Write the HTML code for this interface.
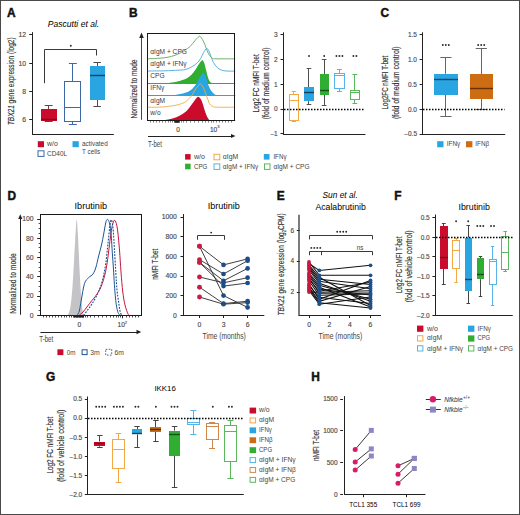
<!DOCTYPE html>
<html><head><meta charset="utf-8"><style>
html,body{margin:0;padding:0;background:#fff;}
body{width:520px;height:515px;overflow:hidden;}
svg{display:block;font-family:"Liberation Sans",sans-serif;}
text{stroke:none;}
text.t{stroke:#4a4a4a;stroke-width:0.14px;fill:#4a4a4a;}
text.ti{stroke:none;}
text.pl{stroke:#111;stroke-width:0.45px;}
text.rl{stroke:#333;stroke-width:0.16px;}
</style></head><body>
<svg width="520" height="515" viewBox="0 0 520 515">
<rect x="0" y="0" width="520" height="515" fill="#fff"/>
<text x="7" y="16.5" font-size="11.9" class="pl" fill="#111" font-weight="bold">A</text>
<text x="73.5" y="26.8" font-size="8.8" class="ti" text-anchor="middle" font-style="italic" textLength="51.4" lengthAdjust="spacingAndGlyphs">Pascutti et al.</text>
<line x1="32.5" y1="32.2" x2="32.5" y2="135" stroke="#222" stroke-width="1"/>
<line x1="32" y1="134.5" x2="113.8" y2="134.5" stroke="#222" stroke-width="1"/>
<line x1="29.2" y1="34.5" x2="32.5" y2="34.5" stroke="#222" stroke-width="1"/>
<text x="26" y="37.2" font-size="6.8" class="t" text-anchor="end" fill="#555">12</text>
<line x1="29.2" y1="63.5" x2="32.5" y2="63.5" stroke="#222" stroke-width="1"/>
<text x="26" y="65.5" font-size="6.8" class="t" text-anchor="end" fill="#555">10</text>
<line x1="29.2" y1="91.5" x2="32.5" y2="91.5" stroke="#222" stroke-width="1"/>
<text x="26" y="93.8" font-size="6.8" class="t" text-anchor="end" fill="#555">8</text>
<line x1="29.2" y1="119.5" x2="32.5" y2="119.5" stroke="#222" stroke-width="1"/>
<text x="26" y="122" font-size="6.8" class="t" text-anchor="end" fill="#555">6</text>
<text x="0" y="0" font-size="8.62" fill="#333" class="rl" transform="translate(14.1,81.25) rotate(-90)" text-anchor="middle" textLength="87.7" lengthAdjust="spacingAndGlyphs"><tspan font-style="italic">TBX21</tspan> gene expression (log2)</text>
<path d="M44.5,83.2 V49.5 H96.5 V55.5" fill="none" stroke="#3a3a3a" stroke-width="1"/>
<circle cx="70.8" cy="45.7" r="0.95" fill="#2a2a2a" stroke="none" stroke-width="1"/>
<line x1="48.5" y1="105.8" x2="48.5" y2="109" stroke="#7a3b46" stroke-width="1"/>
<line x1="48.65" y1="121.5" x2="48.65" y2="121.5" stroke="#7a3b46" stroke-width="1"/>
<line x1="44.68" y1="105.5" x2="52.63" y2="105.5" stroke="#7a3b46" stroke-width="1"/>
<line x1="44.68" y1="121.5" x2="52.63" y2="121.5" stroke="#7a3b46" stroke-width="1"/>
<rect x="41" y="109" width="16" height="12" fill="#cb0b2c" stroke="none" stroke-width="1"/>
<line x1="41" y1="119.5" x2="57" y2="119.5" stroke="#7a0a1a" stroke-width="1.4"/>
<line x1="72.5" y1="63.7" x2="72.5" y2="81.5" stroke="#3d6aa6" stroke-width="1"/>
<line x1="72.5" y1="121.5" x2="72.5" y2="124.9" stroke="#3d6aa6" stroke-width="1"/>
<line x1="68.88" y1="63.5" x2="76.82" y2="63.5" stroke="#3d6aa6" stroke-width="1"/>
<line x1="68.88" y1="124.5" x2="76.82" y2="124.5" stroke="#3d6aa6" stroke-width="1"/>
<rect x="64.5" y="81.5" width="16" height="40" fill="#fff" stroke="#3d6aa6" stroke-width="1"/>
<line x1="64.5" y1="107.5" x2="80.5" y2="107.5" stroke="#3d6aa6" stroke-width="1"/>
<line x1="97.5" y1="62.5" x2="97.5" y2="66.2" stroke="#4a4a4a" stroke-width="1"/>
<line x1="97.5" y1="99.5" x2="97.5" y2="106.3" stroke="#4a4a4a" stroke-width="1"/>
<line x1="93.43" y1="62.5" x2="100.88" y2="62.5" stroke="#4a4a4a" stroke-width="1"/>
<line x1="93.43" y1="106.5" x2="100.88" y2="106.5" stroke="#4a4a4a" stroke-width="1"/>
<rect x="90" y="66" width="15" height="34" fill="#29a5e2" stroke="none" stroke-width="1"/>
<line x1="90" y1="75.5" x2="105" y2="75.5" stroke="#15405e" stroke-width="1.4"/>
<rect x="37.8" y="141.2" width="6.2" height="6" fill="#cb0b2c" stroke="none" stroke-width="1"/>
<text x="47.1" y="146.2" font-size="7.2" class="ti" fill="#444" textLength="10.7" lengthAdjust="spacingAndGlyphs">w/o</text>
<rect x="38" y="150.8" width="6" height="5.6" fill="#fff" stroke="#3d6aa6" stroke-width="1"/>
<text x="47.1" y="156.3" font-size="7.2" class="ti" fill="#444" textLength="20" lengthAdjust="spacingAndGlyphs">CD40L</text>
<rect x="72.5" y="141.2" width="6.3" height="6" fill="#29a5e2" stroke="none" stroke-width="1"/>
<text x="82" y="146.2" font-size="7.2" class="ti" fill="#444" textLength="25.8" lengthAdjust="spacingAndGlyphs">activated</text>
<text x="82" y="153.6" font-size="7.2" class="ti" fill="#444" textLength="18.2" lengthAdjust="spacingAndGlyphs">T cells</text>
<text x="129.1" y="16.5" font-size="11.9" class="pl" fill="#111" font-weight="bold">B</text>
<path d="M147.6,58.8 C148,58.78 147.93,58.8 150,58.7 C152.07,58.6 157,58.45 160,58.2 C163,57.95 165.5,57.68 168,57.2 C170.5,56.72 172.83,56.08 175,55.3 C177.17,54.52 179.33,53.38 181,52.5 C182.67,51.62 183.52,50.97 185,50 C186.48,49.03 188.27,48.23 189.9,46.7 C191.53,45.17 193.45,42.37 194.8,40.8 C196.15,39.23 197.1,38.03 198,37.3 C198.9,36.57 199.35,35.82 200.2,36.4 C201.05,36.98 202.28,39.33 203.1,40.8 C203.92,42.27 204.43,43.57 205.1,45.2 C205.77,46.83 206.37,48.88 207.1,50.6 C207.83,52.32 208.6,54.22 209.5,55.5 C210.4,56.78 211.42,57.75 212.5,58.3 C213.58,58.85 212.22,58.72 216,58.8 C219.78,58.88 232,58.8 235.2,58.8" fill="none" stroke="#5fa65f" stroke-width="0.9"/>
<path d="M147.6,71.1 C148,71.08 147.1,71.05 150,71 C152.9,70.95 160.33,70.93 165,70.8 C169.67,70.67 174.67,70.4 178,70.2 C181.33,70 182.85,70.08 185,69.6 C187.15,69.12 188.93,68.35 190.9,67.3 C192.87,66.25 195.17,64.78 196.8,63.3 C198.43,61.82 199.57,60.2 200.7,58.4 C201.83,56.6 202.62,54.13 203.6,52.5 C204.58,50.87 205.7,48.83 206.6,48.6 C207.5,48.37 208.27,49.78 209,51.1 C209.73,52.42 210.27,54.62 211,56.5 C211.73,58.38 212.33,60.53 213.4,62.4 C214.47,64.27 215.92,66.37 217.4,67.7 C218.88,69.03 220.53,69.83 222.3,70.4 C224.07,70.97 225.85,70.98 228,71.1 C230.15,71.22 234,71.1 235.2,71.1" fill="none" stroke="#4aa9d9" stroke-width="0.9"/>
<path d="M165,83.1 C165.83,83.05 167.75,83.12 170,82.8 C172.25,82.48 175.85,81.87 178.5,81.2 C181.15,80.53 183.78,79.82 185.9,78.8 C188.02,77.78 189.62,76.6 191.2,75.1 C192.78,73.6 194.17,71.57 195.4,69.8 C196.63,68.03 197.63,65.98 198.6,64.5 C199.57,63.02 200.5,61.57 201.2,60.9 C201.9,60.23 202.27,60.07 202.8,60.5 C203.33,60.93 203.87,61.95 204.4,63.5 C204.93,65.05 205.47,67.68 206,69.8 C206.53,71.92 207.03,74.35 207.6,76.2 C208.17,78.05 208.7,79.75 209.4,80.9 C210.1,82.05 211.4,82.73 211.8,83.1 L211.8,83.1 L165,83.1 Z" fill="#2fae31" stroke="none" stroke-width="1"/>
<line x1="147.6" y1="83.5" x2="235.2" y2="83.5" stroke="#2fae31" stroke-width="1"/>
<path d="M165,95.5 C166.88,95.38 172.82,95.28 176.3,94.8 C179.78,94.32 183.25,93.58 185.9,92.6 C188.55,91.62 190.45,90.4 192.2,88.9 C193.95,87.4 195.17,85.45 196.4,83.6 C197.63,81.75 198.72,79.4 199.6,77.8 C200.48,76.2 201.08,74.8 201.7,74 C202.32,73.2 202.68,72.73 203.3,73 C203.92,73.27 204.78,74.37 205.4,75.6 C206.02,76.83 206.47,78.72 207,80.4 C207.53,82.08 207.88,83.93 208.6,85.7 C209.32,87.47 210.33,89.58 211.3,91 C212.27,92.42 213.35,93.45 214.4,94.2 C215.45,94.95 217.07,95.28 217.6,95.5 L217.6,95.5 L165,95.5 Z" fill="#29a5e2" stroke="none" stroke-width="1"/>
<line x1="147.6" y1="95.5" x2="235.2" y2="95.5" stroke="#29a5e2" stroke-width="1"/>
<path d="M147.6,107.2 C149.67,107.18 155.85,107.33 160,107.1 C164.15,106.87 168.95,106.35 172.5,105.8 C176.05,105.25 179,104.55 181.3,103.8 C183.6,103.05 184.85,102.35 186.3,101.3 C187.75,100.25 188.97,98.63 190,97.5 C191.03,96.37 191.67,95.75 192.5,94.5 C193.33,93.25 194.08,91.42 195,90 C195.92,88.58 197.13,87 198,86 C198.87,85 199.45,84 200.2,84 C200.95,84 201.73,84.83 202.5,86 C203.27,87.17 204.17,89.4 204.8,91 C205.43,92.6 205.75,94.1 206.3,95.6 C206.85,97.1 207.58,98.67 208.1,100 C208.62,101.33 208.67,102.53 209.4,103.6 C210.13,104.67 211.15,105.8 212.5,106.4 C213.85,107 213.72,107.07 217.5,107.2 C221.28,107.33 232.25,107.2 235.2,107.2" fill="none" stroke="#f2a845" stroke-width="0.9"/>
<path d="M163,120.6 C163.33,120.53 163.42,120.53 165,120.2 C166.58,119.87 170,119.37 172.5,118.6 C175,117.83 177.7,116.82 180,115.6 C182.3,114.38 184.42,113.07 186.3,111.3 C188.18,109.53 189.85,106.88 191.3,105 C192.75,103.12 193.97,101.33 195,100 C196.03,98.67 196.77,97.43 197.5,97 C198.23,96.57 198.77,96.9 199.4,97.4 C200.03,97.9 200.68,98.73 201.3,100 C201.92,101.27 202.48,103.12 203.1,105 C203.72,106.88 204.37,109.42 205,111.3 C205.63,113.18 206.27,114.95 206.9,116.3 C207.53,117.65 208.07,118.68 208.8,119.4 C209.53,120.12 210.88,120.4 211.3,120.6 L211.3,120.6 L163,120.6 Z" fill="#cb0b2c" stroke="none" stroke-width="1"/>
<line x1="147.6" y1="120.5" x2="235.2" y2="120.5" stroke="#cb0b2c" stroke-width="1"/>
<rect x="147.5" y="33.5" width="87" height="87" fill="none" stroke="#1a1a1a" stroke-width="1"/>
<text x="150.3" y="53.5" font-size="6.6" fill="#3a3a3a">&#945;IgM + CPG</text>
<text x="150.3" y="65.8" font-size="6.6" fill="#3a3a3a">&#945;IgM + IFN&#947;</text>
<text x="150.3" y="78" font-size="6.6" fill="#3a3a3a">CPG</text>
<text x="150.3" y="90.4" font-size="6.6" fill="#3a3a3a">IFN&#947;</text>
<text x="150.3" y="102.6" font-size="6.6" fill="#3a3a3a">&#945;IgM</text>
<text x="150.3" y="115" font-size="6.6" fill="#3a3a3a">w/o</text>
<line x1="150.5" y1="121" x2="150.5" y2="122.6" stroke="#555" stroke-width="0.7"/>
<line x1="153.5" y1="121" x2="153.5" y2="122.6" stroke="#555" stroke-width="0.7"/>
<line x1="156.5" y1="121" x2="156.5" y2="122.6" stroke="#555" stroke-width="0.7"/>
<line x1="159.5" y1="121" x2="159.5" y2="122.6" stroke="#555" stroke-width="0.7"/>
<line x1="162.5" y1="121" x2="162.5" y2="122.6" stroke="#555" stroke-width="0.7"/>
<line x1="165.5" y1="121" x2="165.5" y2="122.6" stroke="#555" stroke-width="0.7"/>
<line x1="168.5" y1="121" x2="168.5" y2="122.6" stroke="#555" stroke-width="0.7"/>
<line x1="170.5" y1="121" x2="170.5" y2="122.6" stroke="#555" stroke-width="0.7"/>
<line x1="172.5" y1="121" x2="172.5" y2="122.6" stroke="#555" stroke-width="0.7"/>
<line x1="174.5" y1="121" x2="174.5" y2="122.6" stroke="#555" stroke-width="0.7"/>
<line x1="176.5" y1="121" x2="176.5" y2="122.6" stroke="#555" stroke-width="0.7"/>
<line x1="177.5" y1="121" x2="177.5" y2="122.6" stroke="#555" stroke-width="0.7"/>
<line x1="179.5" y1="121" x2="179.5" y2="122.6" stroke="#555" stroke-width="0.7"/>
<line x1="181.5" y1="121" x2="181.5" y2="122.6" stroke="#555" stroke-width="0.7"/>
<line x1="183.5" y1="121" x2="183.5" y2="122.6" stroke="#555" stroke-width="0.7"/>
<line x1="186.5" y1="121" x2="186.5" y2="122.6" stroke="#555" stroke-width="0.7"/>
<line x1="190.5" y1="121" x2="190.5" y2="122.6" stroke="#555" stroke-width="0.7"/>
<line x1="194.5" y1="121" x2="194.5" y2="122.6" stroke="#555" stroke-width="0.7"/>
<line x1="198.5" y1="121" x2="198.5" y2="122.6" stroke="#555" stroke-width="0.7"/>
<line x1="202.5" y1="121" x2="202.5" y2="122.6" stroke="#555" stroke-width="0.7"/>
<line x1="205.5" y1="121" x2="205.5" y2="122.6" stroke="#555" stroke-width="0.7"/>
<line x1="208.5" y1="121" x2="208.5" y2="122.6" stroke="#555" stroke-width="0.7"/>
<line x1="211.5" y1="121" x2="211.5" y2="122.6" stroke="#555" stroke-width="0.7"/>
<line x1="213.5" y1="121" x2="213.5" y2="122.6" stroke="#555" stroke-width="0.7"/>
<line x1="216.5" y1="121" x2="216.5" y2="122.6" stroke="#555" stroke-width="0.7"/>
<line x1="219.5" y1="121" x2="219.5" y2="122.6" stroke="#555" stroke-width="0.7"/>
<line x1="222.5" y1="121" x2="222.5" y2="122.6" stroke="#555" stroke-width="0.7"/>
<line x1="225.5" y1="121" x2="225.5" y2="122.6" stroke="#555" stroke-width="0.7"/>
<line x1="228.5" y1="121" x2="228.5" y2="122.6" stroke="#555" stroke-width="0.7"/>
<line x1="231.5" y1="121" x2="231.5" y2="122.6" stroke="#555" stroke-width="0.7"/>
<rect x="174.5" y="120.5" width="5" height="2.3" fill="#222" stroke="none" stroke-width="1"/>
<text x="178.1" y="131.6" font-size="6.6" class="t" text-anchor="middle" fill="#555">0</text>
<text x="213.6" y="131.6" font-size="6.6" class="t" text-anchor="middle" fill="#555">10</text>
<text x="217.2" y="128.4" font-size="4.2" class="t" fill="#555">3</text>
<line x1="141.5" y1="36" x2="141.5" y2="119.8" stroke="#444" stroke-width="1"/>
<path d="M139.2,38 L141.5,32.6 L143.8,38 Z" fill="#222" stroke="none" stroke-width="1"/>
<text x="0" y="0" font-size="8.85" fill="#333" class="rl" transform="translate(136.6,89.05) rotate(-90)" text-anchor="middle" textLength="59.1" lengthAdjust="spacingAndGlyphs">Normalized to mode</text>
<line x1="148" y1="136.5" x2="232" y2="136.5" stroke="#222" stroke-width="1"/>
<path d="M231,133.9 L235.5,136 L231,138.1 Z" fill="#222" stroke="none" stroke-width="1"/>
<text x="148.1" y="146.6" font-size="8.2" class="ti" fill="#444" textLength="13.8" lengthAdjust="spacingAndGlyphs">T-bet</text>
<line x1="283.5" y1="32.3" x2="283.5" y2="135" stroke="#222" stroke-width="1"/>
<line x1="283" y1="134.5" x2="365.5" y2="134.5" stroke="#222" stroke-width="1"/>
<line x1="280.5" y1="34.5" x2="283.3" y2="34.5" stroke="#222" stroke-width="1"/>
<text x="277.7" y="36.85" font-size="6.5" class="t" text-anchor="end" fill="#555">3</text>
<line x1="280.5" y1="59.5" x2="283.3" y2="59.5" stroke="#222" stroke-width="1"/>
<text x="277.7" y="61.7" font-size="6.5" class="t" text-anchor="end" fill="#555">2</text>
<line x1="280.5" y1="84.5" x2="283.3" y2="84.5" stroke="#222" stroke-width="1"/>
<text x="277.7" y="86.55" font-size="6.5" class="t" text-anchor="end" fill="#555">1</text>
<line x1="280.5" y1="109.5" x2="283.3" y2="109.5" stroke="#222" stroke-width="1"/>
<text x="277.7" y="111.4" font-size="6.5" class="t" text-anchor="end" fill="#555">0</text>
<line x1="280.5" y1="133.5" x2="283.3" y2="133.5" stroke="#222" stroke-width="1"/>
<text x="277.7" y="136.25" font-size="6.5" class="t" text-anchor="end" fill="#555">&#8211;1</text>
<text x="0" y="0" font-size="9.07" fill="#333" class="rl" transform="translate(258.6,83.4) rotate(-90)" text-anchor="middle" textLength="58.2" lengthAdjust="spacingAndGlyphs">Log2 FC nMFI T-bet</text>
<text x="0" y="0" font-size="9.07" fill="#333" class="rl" transform="translate(268.7,83.4) rotate(-90)" text-anchor="middle" textLength="71.8" lengthAdjust="spacingAndGlyphs">(fold of medium control)</text>
<line x1="293.5" y1="91.1" x2="293.5" y2="94.1" stroke="#f2a845" stroke-width="1"/>
<line x1="293.5" y1="120.2" x2="293.5" y2="121.4" stroke="#f2a845" stroke-width="1"/>
<line x1="291.58" y1="91.5" x2="296.12" y2="91.5" stroke="#f2a845" stroke-width="1"/>
<line x1="291.58" y1="121.5" x2="296.12" y2="121.5" stroke="#f2a845" stroke-width="1"/>
<rect x="289.5" y="94.5" width="9" height="26" fill="#fff" stroke="#f2a845" stroke-width="1"/>
<line x1="289.5" y1="100.5" x2="298.5" y2="100.5" stroke="#f2a845" stroke-width="1"/>
<line x1="308.5" y1="68.5" x2="308.5" y2="87.1" stroke="#505050" stroke-width="1"/>
<line x1="308.5" y1="101.1" x2="308.5" y2="104.4" stroke="#505050" stroke-width="1"/>
<line x1="306.63" y1="68.5" x2="311.28" y2="68.5" stroke="#505050" stroke-width="1"/>
<line x1="306.63" y1="104.5" x2="311.28" y2="104.5" stroke="#505050" stroke-width="1"/>
<rect x="304" y="87" width="10" height="14" fill="#29a5e2" stroke="none" stroke-width="1"/>
<line x1="304" y1="92.5" x2="314" y2="92.5" stroke="#15405e" stroke-width="1.4"/>
<line x1="324.5" y1="59.6" x2="324.5" y2="74" stroke="#505050" stroke-width="1"/>
<line x1="324.5" y1="95" x2="324.5" y2="105.8" stroke="#505050" stroke-width="1"/>
<line x1="321.82" y1="59.5" x2="326.47" y2="59.5" stroke="#505050" stroke-width="1"/>
<line x1="321.82" y1="105.5" x2="326.47" y2="105.5" stroke="#505050" stroke-width="1"/>
<rect x="320" y="74" width="9" height="21" fill="#2fae31" stroke="none" stroke-width="1"/>
<line x1="320" y1="90.5" x2="329" y2="90.5" stroke="#16501a" stroke-width="1.4"/>
<line x1="339.5" y1="69.5" x2="339.5" y2="73.3" stroke="#57b4e6" stroke-width="1"/>
<line x1="339.5" y1="88.8" x2="339.5" y2="91.4" stroke="#57b4e6" stroke-width="1"/>
<line x1="336.98" y1="69.5" x2="341.92" y2="69.5" stroke="#57b4e6" stroke-width="1"/>
<line x1="336.98" y1="91.5" x2="341.92" y2="91.5" stroke="#57b4e6" stroke-width="1"/>
<rect x="334.5" y="73.5" width="10" height="15" fill="#fff" stroke="#57b4e6" stroke-width="1"/>
<line x1="334.5" y1="75.5" x2="344.5" y2="75.5" stroke="#57b4e6" stroke-width="1"/>
<line x1="354.5" y1="74.5" x2="354.5" y2="90" stroke="#5cb85e" stroke-width="1"/>
<line x1="354.5" y1="99.7" x2="354.5" y2="103" stroke="#5cb85e" stroke-width="1"/>
<line x1="352.43" y1="74.5" x2="357.28" y2="74.5" stroke="#5cb85e" stroke-width="1"/>
<line x1="352.43" y1="103.5" x2="357.28" y2="103.5" stroke="#5cb85e" stroke-width="1"/>
<rect x="350.5" y="90.5" width="9" height="9" fill="#fff" stroke="#5cb85e" stroke-width="1"/>
<line x1="350.5" y1="92.5" x2="359.5" y2="92.5" stroke="#5cb85e" stroke-width="1"/>
<circle cx="309" cy="56" r="0.95" fill="#2a2a2a" stroke="none" stroke-width="1"/>
<circle cx="324.2" cy="56" r="0.95" fill="#2a2a2a" stroke="none" stroke-width="1"/>
<circle cx="336.4" cy="56" r="0.95" fill="#2a2a2a" stroke="none" stroke-width="1"/>
<circle cx="339.4" cy="56" r="0.95" fill="#2a2a2a" stroke="none" stroke-width="1"/>
<circle cx="342.4" cy="56" r="0.95" fill="#2a2a2a" stroke="none" stroke-width="1"/>
<circle cx="353.4" cy="56" r="0.95" fill="#2a2a2a" stroke="none" stroke-width="1"/>
<circle cx="356.4" cy="56" r="0.95" fill="#2a2a2a" stroke="none" stroke-width="1"/>
<rect x="185.1" y="154.1" width="5.5" height="5.5" fill="#cb0b2c" stroke="none" stroke-width="1"/>
<text x="194" y="159.1" font-size="7.2" class="ti" fill="#444" textLength="11" lengthAdjust="spacingAndGlyphs">w/o</text>
<rect x="214" y="154.3" width="5.8" height="5.5" fill="#fff" stroke="#f2a845" stroke-width="1"/>
<text x="222.8" y="159.1" font-size="7.2" class="ti" fill="#444" textLength="15.4" lengthAdjust="spacingAndGlyphs">&#945;IgM</text>
<rect x="263.8" y="154" width="5.7" height="5.6" fill="#29a5e2" stroke="none" stroke-width="1"/>
<text x="273.4" y="159.1" font-size="7.2" class="ti" fill="#444" textLength="13.1" lengthAdjust="spacingAndGlyphs">IFN&#947;</text>
<rect x="185.1" y="163.7" width="5.5" height="5.6" fill="#2fae31" stroke="none" stroke-width="1"/>
<text x="194" y="168.8" font-size="7.2" class="ti" fill="#444" textLength="13.4" lengthAdjust="spacingAndGlyphs">CPG</text>
<rect x="214" y="163.9" width="5.8" height="5.5" fill="#fff" stroke="#57b4e6" stroke-width="1"/>
<text x="222.8" y="168.8" font-size="7.2" class="ti" fill="#444" textLength="35.4" lengthAdjust="spacingAndGlyphs">&#945;IgM + IFN&#947;</text>
<rect x="264.5" y="163.9" width="5.5" height="5.5" fill="#fff" stroke="#5cb85e" stroke-width="1"/>
<text x="273.4" y="168.8" font-size="7.2" class="ti" fill="#444" textLength="36.1" lengthAdjust="spacingAndGlyphs">&#945;IgM + CPG</text>
<text x="380.5" y="16.6" font-size="11.9" class="pl" fill="#111" font-weight="bold">C</text>
<line x1="422.5" y1="32.3" x2="422.5" y2="135" stroke="#222" stroke-width="1"/>
<line x1="422" y1="134.5" x2="505.2" y2="134.5" stroke="#222" stroke-width="1"/>
<line x1="419.6" y1="34.5" x2="422.4" y2="34.5" stroke="#222" stroke-width="1"/>
<text x="417" y="37.1" font-size="6.5" class="t" text-anchor="end" fill="#555">1.5</text>
<line x1="419.6" y1="59.5" x2="422.4" y2="59.5" stroke="#222" stroke-width="1"/>
<text x="417" y="61.9" font-size="6.5" class="t" text-anchor="end" fill="#555">1.0</text>
<line x1="419.6" y1="84.5" x2="422.4" y2="84.5" stroke="#222" stroke-width="1"/>
<text x="417" y="86.7" font-size="6.5" class="t" text-anchor="end" fill="#555">0.5</text>
<line x1="419.6" y1="109.5" x2="422.4" y2="109.5" stroke="#222" stroke-width="1"/>
<text x="417" y="111.5" font-size="6.5" class="t" text-anchor="end" fill="#555">0.0</text>
<line x1="419.6" y1="134.5" x2="422.4" y2="134.5" stroke="#222" stroke-width="1"/>
<text x="417" y="136.3" font-size="6.5" class="t" text-anchor="end" fill="#555">&#8211;0.5</text>
<text x="0" y="0" font-size="9.07" fill="#333" class="rl" transform="translate(387.7,82.6) rotate(-90)" text-anchor="middle" textLength="53.8" lengthAdjust="spacingAndGlyphs">Log2FC nMFI T-bet</text>
<text x="0" y="0" font-size="9.07" fill="#333" class="rl" transform="translate(398.5,82.75) rotate(-90)" text-anchor="middle" textLength="72.7" lengthAdjust="spacingAndGlyphs">(fold of medium control)</text>
<line x1="445.5" y1="57.4" x2="445.5" y2="73.8" stroke="#666" stroke-width="1"/>
<line x1="445.5" y1="95" x2="445.5" y2="116.3" stroke="#666" stroke-width="1"/>
<line x1="440.36" y1="57.5" x2="451.54" y2="57.5" stroke="#666" stroke-width="1"/>
<line x1="440.36" y1="116.5" x2="451.54" y2="116.5" stroke="#666" stroke-width="1"/>
<rect x="434" y="74" width="24" height="21" fill="#29a5e2" stroke="none" stroke-width="1"/>
<line x1="434" y1="79.5" x2="458" y2="79.5" stroke="#1d4560" stroke-width="1.4"/>
<line x1="481.5" y1="48.3" x2="481.5" y2="74.3" stroke="#666" stroke-width="1"/>
<line x1="481.5" y1="99.1" x2="481.5" y2="109.2" stroke="#666" stroke-width="1"/>
<line x1="475.73" y1="48.5" x2="486.87" y2="48.5" stroke="#666" stroke-width="1"/>
<line x1="475.73" y1="109.5" x2="486.87" y2="109.5" stroke="#666" stroke-width="1"/>
<rect x="470" y="74" width="23" height="25" fill="#cc6d13" stroke="none" stroke-width="1"/>
<line x1="470" y1="88.5" x2="493" y2="88.5" stroke="#6a3000" stroke-width="1.4"/>
<circle cx="442.8" cy="45" r="0.95" fill="#2a2a2a" stroke="none" stroke-width="1"/>
<circle cx="445.8" cy="45" r="0.95" fill="#2a2a2a" stroke="none" stroke-width="1"/>
<circle cx="448.8" cy="45" r="0.95" fill="#2a2a2a" stroke="none" stroke-width="1"/>
<circle cx="478.2" cy="45" r="0.95" fill="#2a2a2a" stroke="none" stroke-width="1"/>
<circle cx="481.2" cy="45" r="0.95" fill="#2a2a2a" stroke="none" stroke-width="1"/>
<circle cx="484.2" cy="45" r="0.95" fill="#2a2a2a" stroke="none" stroke-width="1"/>
<rect x="437.2" y="141.2" width="6.3" height="6.1" fill="#29a5e2" stroke="none" stroke-width="1"/>
<text x="446.8" y="146.3" font-size="7.2" class="ti" fill="#444" textLength="13.5" lengthAdjust="spacingAndGlyphs">IFN&#947;</text>
<rect x="466" y="141.2" width="6.4" height="6.1" fill="#cc6d13" stroke="none" stroke-width="1"/>
<text x="475.3" y="146.3" font-size="7.2" class="ti" fill="#444" textLength="13.8" lengthAdjust="spacingAndGlyphs">IFN&#946;</text>
<text x="7.4" y="199.8" font-size="11.9" class="pl" fill="#111" font-weight="bold">D</text>
<path d="M67.8,315.2 C68.13,314.33 69.22,312.53 69.8,310 C70.38,307.47 70.83,304.17 71.3,300 C71.77,295.83 72.18,290.83 72.6,285 C73.02,279.17 73.37,272.5 73.8,265 C74.23,257.5 74.73,247.57 75.2,240 C75.67,232.43 76.15,220.6 76.6,219.6 C77.05,218.6 77.52,227.93 77.9,234 C78.28,240.07 78.57,249 78.9,256 C79.23,263 79.57,269.83 79.9,276 C80.23,282.17 80.57,288 80.9,293 C81.23,298 81.52,302.3 81.9,306 C82.28,309.7 82.98,313.67 83.2,315.2 Z" fill="#c4c4c6" stroke="none" stroke-width="1"/>
<path d="M79,315.4 C79.67,314.83 81.55,313.57 83,312 C84.45,310.43 86.28,307.83 87.7,306 C89.12,304.17 90.25,302.57 91.5,301 C92.75,299.43 93.87,298.43 95.2,296.6 C96.53,294.77 98.32,292.18 99.5,290 C100.68,287.82 101.42,286 102.3,283.5 C103.18,281 104.05,278.08 104.8,275 C105.55,271.92 106.17,268.83 106.8,265 C107.43,261.17 108.02,256.5 108.6,252 C109.18,247.5 109.8,241.83 110.3,238 C110.8,234.17 111.22,231.25 111.6,229 C111.98,226.75 112.13,225.97 112.6,224.5 C113.07,223.03 113.78,220.37 114.4,220.2 C115.02,220.03 115.73,221.53 116.3,223.5 C116.87,225.47 117.27,227.58 117.8,232 C118.33,236.42 118.97,243.33 119.5,250 C120.03,256.67 120.45,265 121,272 C121.55,279 122.13,286.5 122.8,292 C123.47,297.5 124.08,301.25 125,305 C125.92,308.75 127.38,312.77 128.3,314.5 C129.22,316.23 130.13,315.25 130.5,315.4" fill="none" stroke="#c8173f" stroke-width="1"/>
<path d="M77,315.4 C77.38,314.67 78.58,313.57 79.3,311 C80.02,308.43 80.43,304.58 81.3,300 C82.17,295.42 83.25,287.25 84.5,283.5 C85.75,279.75 87.38,279.08 88.8,277.5 C90.22,275.92 91.8,275.75 93,274 C94.2,272.25 95.1,269.83 96,267 C96.9,264.17 97.48,260.67 98.4,257 C99.32,253.33 100.62,248.83 101.5,245 C102.38,241.17 103,237.67 103.7,234 C104.4,230.33 105.17,225.4 105.7,223 C106.23,220.6 106.42,220.02 106.9,219.6 C107.38,219.18 108.07,219.43 108.6,220.5 C109.13,221.57 109.65,223.25 110.1,226 C110.55,228.75 110.93,232.55 111.3,237 C111.67,241.45 111.95,247.53 112.3,252.7 C112.65,257.87 113.05,262.68 113.4,268 C113.75,273.32 114.05,279.6 114.4,284.6 C114.75,289.6 115.15,294.43 115.5,298 C115.85,301.57 116.08,303.58 116.5,306 C116.92,308.42 117.42,310.93 118,312.5 C118.58,314.07 119.67,314.92 120,315.4" fill="none" stroke="#1c5596" stroke-width="1"/>
<path d="M83.5,315.4 C84.25,314.42 86.58,311.43 88,309.5 C89.42,307.57 90.58,306.05 92,303.8 C93.42,301.55 95.08,298.83 96.5,296 C97.92,293.17 99.33,290.13 100.5,286.8 C101.67,283.47 102.62,279.92 103.5,276 C104.38,272.08 105.13,267.97 105.8,263.3 C106.47,258.63 107.03,252.27 107.5,248 C107.97,243.73 108.18,241.53 108.6,237.7 C109.02,233.87 109.57,227.98 110,225 C110.43,222.02 110.82,220.13 111.2,219.8 C111.58,219.47 111.95,221.08 112.3,223 C112.65,224.92 112.93,226.8 113.3,231.3 C113.67,235.8 114.07,242.88 114.5,250 C114.93,257.12 115.48,267.33 115.9,274 C116.32,280.67 116.55,285.38 117,290 C117.45,294.62 118.13,298.37 118.6,301.7 C119.07,305.03 119.32,307.72 119.8,310 C120.28,312.28 121.22,314.5 121.5,315.4" fill="none" stroke="#1c4f8e" stroke-width="1.1" stroke-dasharray="1.8 1.3"/>
<rect x="40.5" y="214.5" width="101" height="101" fill="none" stroke="#1a1a1a" stroke-width="1"/>
<line x1="37.2" y1="315.5" x2="40.5" y2="315.5" stroke="#222" stroke-width="1"/>
<line x1="38.6" y1="310.5" x2="40.5" y2="310.5" stroke="#222" stroke-width="0.8"/>
<line x1="38.6" y1="305.5" x2="40.5" y2="305.5" stroke="#222" stroke-width="0.8"/>
<line x1="38.6" y1="300.5" x2="40.5" y2="300.5" stroke="#222" stroke-width="0.8"/>
<line x1="37.2" y1="296.5" x2="40.5" y2="296.5" stroke="#222" stroke-width="1"/>
<line x1="38.6" y1="291.5" x2="40.5" y2="291.5" stroke="#222" stroke-width="0.8"/>
<line x1="38.6" y1="286.5" x2="40.5" y2="286.5" stroke="#222" stroke-width="0.8"/>
<line x1="38.6" y1="281.5" x2="40.5" y2="281.5" stroke="#222" stroke-width="0.8"/>
<line x1="37.2" y1="276.5" x2="40.5" y2="276.5" stroke="#222" stroke-width="1"/>
<line x1="38.6" y1="271.5" x2="40.5" y2="271.5" stroke="#222" stroke-width="0.8"/>
<line x1="38.6" y1="267.5" x2="40.5" y2="267.5" stroke="#222" stroke-width="0.8"/>
<line x1="38.6" y1="262.5" x2="40.5" y2="262.5" stroke="#222" stroke-width="0.8"/>
<line x1="37.2" y1="257.5" x2="40.5" y2="257.5" stroke="#222" stroke-width="1"/>
<line x1="38.6" y1="252.5" x2="40.5" y2="252.5" stroke="#222" stroke-width="0.8"/>
<line x1="38.6" y1="247.5" x2="40.5" y2="247.5" stroke="#222" stroke-width="0.8"/>
<line x1="38.6" y1="243.5" x2="40.5" y2="243.5" stroke="#222" stroke-width="0.8"/>
<line x1="37.2" y1="238.5" x2="40.5" y2="238.5" stroke="#222" stroke-width="1"/>
<line x1="38.6" y1="233.5" x2="40.5" y2="233.5" stroke="#222" stroke-width="0.8"/>
<line x1="38.6" y1="228.5" x2="40.5" y2="228.5" stroke="#222" stroke-width="0.8"/>
<line x1="38.6" y1="223.5" x2="40.5" y2="223.5" stroke="#222" stroke-width="0.8"/>
<line x1="37.2" y1="219.5" x2="40.5" y2="219.5" stroke="#222" stroke-width="1"/>
<text x="33.5" y="221.45" font-size="6.8" class="t" text-anchor="end" fill="#555">100</text>
<text x="33.5" y="240.7" font-size="6.8" class="t" text-anchor="end" fill="#555">80</text>
<text x="33.5" y="259.95" font-size="6.8" class="t" text-anchor="end" fill="#555">60</text>
<text x="33.5" y="279.2" font-size="6.8" class="t" text-anchor="end" fill="#555">40</text>
<text x="33.5" y="298.45" font-size="6.8" class="t" text-anchor="end" fill="#555">20</text>
<text x="33.5" y="317.7" font-size="6.8" class="t" text-anchor="end" fill="#555">0</text>
<line x1="43.5" y1="315.5" x2="43.5" y2="317.5" stroke="#222" stroke-width="0.8"/>
<line x1="46.5" y1="315.5" x2="46.5" y2="317.5" stroke="#222" stroke-width="0.8"/>
<line x1="49.5" y1="315.5" x2="49.5" y2="317.5" stroke="#222" stroke-width="0.8"/>
<line x1="52.5" y1="315.5" x2="52.5" y2="317.5" stroke="#222" stroke-width="0.8"/>
<line x1="55.5" y1="315.5" x2="55.5" y2="317.5" stroke="#222" stroke-width="0.8"/>
<line x1="58.5" y1="315.5" x2="58.5" y2="317.5" stroke="#222" stroke-width="0.8"/>
<line x1="61.5" y1="315.5" x2="61.5" y2="317.5" stroke="#222" stroke-width="0.8"/>
<line x1="64.5" y1="315.5" x2="64.5" y2="317.5" stroke="#222" stroke-width="0.8"/>
<line x1="66.5" y1="315.5" x2="66.5" y2="317.5" stroke="#222" stroke-width="0.8"/>
<line x1="69.5" y1="315.5" x2="69.5" y2="317.5" stroke="#222" stroke-width="0.8"/>
<line x1="71.5" y1="315.5" x2="71.5" y2="317.5" stroke="#222" stroke-width="0.8"/>
<line x1="73.5" y1="315.5" x2="73.5" y2="317.5" stroke="#222" stroke-width="0.8"/>
<line x1="74.5" y1="315.5" x2="74.5" y2="317.5" stroke="#222" stroke-width="0.8"/>
<line x1="76.5" y1="315.5" x2="76.5" y2="317.5" stroke="#222" stroke-width="0.8"/>
<line x1="77.5" y1="315.5" x2="77.5" y2="317.5" stroke="#222" stroke-width="0.8"/>
<line x1="79.5" y1="315.5" x2="79.5" y2="317.5" stroke="#222" stroke-width="0.8"/>
<line x1="80.5" y1="315.5" x2="80.5" y2="317.5" stroke="#222" stroke-width="0.8"/>
<line x1="82.5" y1="315.5" x2="82.5" y2="317.5" stroke="#222" stroke-width="0.8"/>
<line x1="83.5" y1="315.5" x2="83.5" y2="317.5" stroke="#222" stroke-width="0.8"/>
<line x1="85.5" y1="315.5" x2="85.5" y2="317.5" stroke="#222" stroke-width="0.8"/>
<line x1="87.5" y1="315.5" x2="87.5" y2="317.5" stroke="#222" stroke-width="0.8"/>
<line x1="90.5" y1="315.5" x2="90.5" y2="317.5" stroke="#222" stroke-width="0.8"/>
<line x1="94.5" y1="315.5" x2="94.5" y2="317.5" stroke="#222" stroke-width="0.8"/>
<line x1="98.5" y1="315.5" x2="98.5" y2="317.5" stroke="#222" stroke-width="0.8"/>
<line x1="102.5" y1="315.5" x2="102.5" y2="317.5" stroke="#222" stroke-width="0.8"/>
<line x1="106.5" y1="315.5" x2="106.5" y2="317.5" stroke="#222" stroke-width="0.8"/>
<line x1="110.5" y1="315.5" x2="110.5" y2="317.5" stroke="#222" stroke-width="0.8"/>
<line x1="113.5" y1="315.5" x2="113.5" y2="317.5" stroke="#222" stroke-width="0.8"/>
<line x1="116.5" y1="315.5" x2="116.5" y2="317.5" stroke="#222" stroke-width="0.8"/>
<line x1="118.5" y1="315.5" x2="118.5" y2="317.5" stroke="#222" stroke-width="0.8"/>
<line x1="120.5" y1="315.5" x2="120.5" y2="317.5" stroke="#222" stroke-width="0.8"/>
<line x1="122.5" y1="315.5" x2="122.5" y2="317.5" stroke="#222" stroke-width="0.8"/>
<line x1="126.5" y1="315.5" x2="126.5" y2="317.5" stroke="#222" stroke-width="0.8"/>
<line x1="129.5" y1="315.5" x2="129.5" y2="317.5" stroke="#222" stroke-width="0.8"/>
<line x1="132.5" y1="315.5" x2="132.5" y2="317.5" stroke="#222" stroke-width="0.8"/>
<line x1="135.5" y1="315.5" x2="135.5" y2="317.5" stroke="#222" stroke-width="0.8"/>
<line x1="138.5" y1="315.5" x2="138.5" y2="317.5" stroke="#222" stroke-width="0.8"/>
<line x1="122.5" y1="315.5" x2="122.5" y2="318.3" stroke="#222" stroke-width="1"/>
<rect x="74" y="315.2" width="10" height="2.3" fill="#222" stroke="none" stroke-width="1"/>
<text x="79.3" y="326.9" font-size="6.6" class="t" text-anchor="middle" fill="#555">0</text>
<text x="121.2" y="326.9" font-size="6.6" class="t" text-anchor="middle" fill="#555">10</text>
<text x="124.8" y="323.6" font-size="4.2" class="t" fill="#555">2</text>
<text x="90.8" y="209.3" font-size="9" class="ti" text-anchor="middle" textLength="32.4" lengthAdjust="spacingAndGlyphs">Ibrutinib</text>
<line x1="20.5" y1="217.5" x2="20.5" y2="314.8" stroke="#222" stroke-width="1"/>
<path d="M18.2,219 L20.3,214.2 L22.4,219 Z" fill="#222" stroke="none" stroke-width="1"/>
<text x="0" y="0" font-size="8.85" fill="#333" class="rl" transform="translate(15.6,283.5) rotate(-90)" text-anchor="middle" textLength="60.6" lengthAdjust="spacingAndGlyphs">Normalized to mode</text>
<line x1="40.4" y1="332.5" x2="137.5" y2="332.5" stroke="#222" stroke-width="1"/>
<path d="M136.5,329.8 L141.2,332 L136.5,334.2 Z" fill="#222" stroke="none" stroke-width="1"/>
<text x="39.2" y="341.5" font-size="8.2" class="ti" fill="#444" textLength="14.1" lengthAdjust="spacingAndGlyphs">T-bet</text>
<rect x="57.4" y="349.3" width="6" height="5.8" fill="#cb0b2c" stroke="none" stroke-width="1"/>
<text x="66.8" y="354.5" font-size="7.2" class="ti" fill="#444" textLength="8.7" lengthAdjust="spacingAndGlyphs">0m</text>
<rect x="82.1" y="349.8" width="5" height="4.8" fill="#fff" stroke="#1c5596" stroke-width="1"/>
<text x="90.3" y="354.5" font-size="7.2" class="ti" fill="#444" textLength="9.5" lengthAdjust="spacingAndGlyphs">3m</text>
<rect x="105.7" y="349.3" width="6" height="5.8" fill="#fff" stroke="#41608a" stroke-width="1" stroke-dasharray="1.6 1.4"/>
<text x="114.6" y="354.5" font-size="7.2" class="ti" fill="#444" textLength="9.4" lengthAdjust="spacingAndGlyphs">6m</text>
<line x1="183.5" y1="214" x2="183.5" y2="315.8" stroke="#222" stroke-width="1"/>
<line x1="183" y1="315.5" x2="264.3" y2="315.5" stroke="#222" stroke-width="1"/>
<line x1="180.5" y1="217.5" x2="183.3" y2="217.5" stroke="#222" stroke-width="1"/>
<text x="176.9" y="219.3" font-size="6.8" class="t" text-anchor="end" fill="#555">1000</text>
<line x1="180.5" y1="236.5" x2="183.3" y2="236.5" stroke="#222" stroke-width="1"/>
<text x="176.9" y="238.96" font-size="6.8" class="t" text-anchor="end" fill="#555">800</text>
<line x1="180.5" y1="256.5" x2="183.3" y2="256.5" stroke="#222" stroke-width="1"/>
<text x="176.9" y="258.62" font-size="6.8" class="t" text-anchor="end" fill="#555">600</text>
<line x1="180.5" y1="276.5" x2="183.3" y2="276.5" stroke="#222" stroke-width="1"/>
<text x="176.9" y="278.28" font-size="6.8" class="t" text-anchor="end" fill="#555">400</text>
<line x1="180.5" y1="295.5" x2="183.3" y2="295.5" stroke="#222" stroke-width="1"/>
<text x="176.9" y="297.94" font-size="6.8" class="t" text-anchor="end" fill="#555">200</text>
<line x1="180.5" y1="315.5" x2="183.3" y2="315.5" stroke="#222" stroke-width="1"/>
<text x="176.9" y="317.6" font-size="6.8" class="t" text-anchor="end" fill="#555">0</text>
<line x1="199.5" y1="315.4" x2="199.5" y2="318" stroke="#222" stroke-width="1"/>
<text x="199.5" y="327.2" font-size="6.8" class="t" text-anchor="middle" fill="#555">0</text>
<line x1="223.5" y1="315.4" x2="223.5" y2="318" stroke="#222" stroke-width="1"/>
<text x="223.7" y="327.2" font-size="6.8" class="t" text-anchor="middle" fill="#555">3</text>
<line x1="247.5" y1="315.4" x2="247.5" y2="318" stroke="#222" stroke-width="1"/>
<text x="247.7" y="327.2" font-size="6.8" class="t" text-anchor="middle" fill="#555">6</text>
<text x="202.5" y="338.8" font-size="8.6" class="ti" fill="#444" textLength="43.3" lengthAdjust="spacingAndGlyphs">Time (months)</text>
<text x="223.8" y="208.9" font-size="9" class="ti" text-anchor="middle" textLength="32.2" lengthAdjust="spacingAndGlyphs">Ibrutinib</text>
<text x="0" y="0" font-size="8.85" fill="#333" class="rl" transform="translate(158,264.25) rotate(-90)" text-anchor="middle" textLength="31.1" lengthAdjust="spacingAndGlyphs">nMFI T-bet</text>
<path d="M197.5,239.8 V235.5 H224.5 V239.8" fill="none" stroke="#3a3a3a" stroke-width="1"/>
<circle cx="211.2" cy="232.6" r="0.95" fill="#2a2a2a" stroke="none" stroke-width="1"/>
<path d="M199.5,246.3 L223.5,264.9 L247.6,258.9" fill="none" stroke="#2a2a2a" stroke-width="0.9"/>
<path d="M199.5,246.3 L223.5,295.6 L247.6,307.4" fill="none" stroke="#2a2a2a" stroke-width="0.9"/>
<path d="M199.5,259.6 L223.5,274 L247.6,260.7" fill="none" stroke="#2a2a2a" stroke-width="0.9"/>
<path d="M199.5,262.4 L223.5,280.8 L247.6,268.4" fill="none" stroke="#2a2a2a" stroke-width="0.9"/>
<path d="M199.5,277 L223.5,282.8 L247.6,277.7" fill="none" stroke="#2a2a2a" stroke-width="0.9"/>
<path d="M199.5,262.4 L223.5,286.1 L247.6,283" fill="none" stroke="#2a2a2a" stroke-width="0.9"/>
<path d="M199.5,287.2 L223.5,303.6 L247.6,301.2" fill="none" stroke="#2a2a2a" stroke-width="0.9"/>
<path d="M199.5,297 L223.5,304.2 L247.6,302.6" fill="none" stroke="#2a2a2a" stroke-width="0.9"/>
<circle cx="199.5" cy="246.3" r="2.45" fill="#c81e44" stroke="none" stroke-width="1"/>
<circle cx="199.5" cy="246.3" r="2.45" fill="#c81e44" stroke="none" stroke-width="1"/>
<circle cx="199.5" cy="259.6" r="2.45" fill="#c81e44" stroke="none" stroke-width="1"/>
<circle cx="199.5" cy="262.4" r="2.45" fill="#c81e44" stroke="none" stroke-width="1"/>
<circle cx="199.5" cy="277" r="2.45" fill="#c81e44" stroke="none" stroke-width="1"/>
<circle cx="199.5" cy="262.4" r="2.45" fill="#c81e44" stroke="none" stroke-width="1"/>
<circle cx="199.5" cy="287.2" r="2.45" fill="#c81e44" stroke="none" stroke-width="1"/>
<circle cx="199.5" cy="297" r="2.45" fill="#c81e44" stroke="none" stroke-width="1"/>
<circle cx="223.5" cy="264.9" r="2.35" fill="#1d4c86" stroke="none" stroke-width="1"/>
<circle cx="247.6" cy="258.9" r="2.35" fill="#1d4c86" stroke="none" stroke-width="1"/>
<circle cx="223.5" cy="295.6" r="2.35" fill="#1d4c86" stroke="none" stroke-width="1"/>
<circle cx="247.6" cy="307.4" r="2.35" fill="#1d4c86" stroke="none" stroke-width="1"/>
<circle cx="223.5" cy="274" r="2.35" fill="#1d4c86" stroke="none" stroke-width="1"/>
<circle cx="247.6" cy="260.7" r="2.35" fill="#1d4c86" stroke="none" stroke-width="1"/>
<circle cx="223.5" cy="280.8" r="2.35" fill="#1d4c86" stroke="none" stroke-width="1"/>
<circle cx="247.6" cy="268.4" r="2.35" fill="#1d4c86" stroke="none" stroke-width="1"/>
<circle cx="223.5" cy="282.8" r="2.35" fill="#1d4c86" stroke="none" stroke-width="1"/>
<circle cx="247.6" cy="277.7" r="2.35" fill="#1d4c86" stroke="none" stroke-width="1"/>
<circle cx="223.5" cy="286.1" r="2.35" fill="#1d4c86" stroke="none" stroke-width="1"/>
<circle cx="247.6" cy="283" r="2.35" fill="#1d4c86" stroke="none" stroke-width="1"/>
<circle cx="223.5" cy="303.6" r="2.35" fill="#1d4c86" stroke="none" stroke-width="1"/>
<circle cx="247.6" cy="301.2" r="2.35" fill="#1d4c86" stroke="none" stroke-width="1"/>
<circle cx="223.5" cy="304.2" r="2.35" fill="#1d4c86" stroke="none" stroke-width="1"/>
<circle cx="247.6" cy="302.6" r="2.35" fill="#1d4c86" stroke="none" stroke-width="1"/>
<text x="276.8" y="199.8" font-size="11.9" class="pl" fill="#111" font-weight="bold">E</text>
<text x="340.1" y="197.5" font-size="8.8" class="ti" text-anchor="middle" font-style="italic" textLength="35.2" lengthAdjust="spacingAndGlyphs">Sun et al.</text>
<text x="340.6" y="209.6" font-size="8.6" class="ti" text-anchor="middle" textLength="50.4" lengthAdjust="spacingAndGlyphs">Acalabrutinib</text>
<line x1="299" y1="214.8" x2="299" y2="316" stroke="#505050" stroke-width="1.5"/>
<line x1="299.1" y1="315.5" x2="381" y2="315.5" stroke="#222" stroke-width="1"/>
<line x1="296.8" y1="230.5" x2="299.6" y2="230.5" stroke="#222" stroke-width="1"/>
<text x="294.2" y="232.52" font-size="6.5" class="t" text-anchor="end" fill="#555">6</text>
<line x1="296.8" y1="261.5" x2="299.6" y2="261.5" stroke="#222" stroke-width="1"/>
<text x="294.2" y="263.48" font-size="6.5" class="t" text-anchor="end" fill="#555">4</text>
<line x1="296.8" y1="292.5" x2="299.6" y2="292.5" stroke="#222" stroke-width="1"/>
<text x="294.2" y="294.44" font-size="6.5" class="t" text-anchor="end" fill="#555">2</text>
<line x1="309.5" y1="315.2" x2="309.5" y2="318" stroke="#222" stroke-width="1"/>
<text x="309.1" y="327.2" font-size="6.8" class="t" text-anchor="middle" fill="#555">0</text>
<line x1="329.5" y1="315.2" x2="329.5" y2="318" stroke="#222" stroke-width="1"/>
<text x="329.5" y="327.2" font-size="6.8" class="t" text-anchor="middle" fill="#555">2</text>
<line x1="349.5" y1="315.2" x2="349.5" y2="318" stroke="#222" stroke-width="1"/>
<text x="349.9" y="327.2" font-size="6.8" class="t" text-anchor="middle" fill="#555">4</text>
<line x1="370.5" y1="315.2" x2="370.5" y2="318" stroke="#222" stroke-width="1"/>
<text x="370.3" y="327.2" font-size="6.8" class="t" text-anchor="middle" fill="#555">6</text>
<text x="318.5" y="338.8" font-size="8.6" class="ti" fill="#444" textLength="43.8" lengthAdjust="spacingAndGlyphs">Time (months)</text>
<text x="0" y="0" font-size="9.3" fill="#333" class="rl" transform="translate(284,264.4) rotate(-90)" text-anchor="middle" textLength="102.4" lengthAdjust="spacingAndGlyphs"><tspan font-style="italic">TBX21</tspan> gene expression (log<tspan font-size="5.5" dy="1.6">2</tspan><tspan dy="-1.6">CPM)</tspan></text>
<path d="M309.5,239.4 V235.5 H372.5 V239.4" fill="none" stroke="#3a3a3a" stroke-width="1"/>
<circle cx="337.2" cy="231.8" r="0.95" fill="#2a2a2a" stroke="none" stroke-width="1"/>
<circle cx="340.2" cy="231.8" r="0.95" fill="#2a2a2a" stroke="none" stroke-width="1"/>
<circle cx="343.2" cy="231.8" r="0.95" fill="#2a2a2a" stroke="none" stroke-width="1"/>
<circle cx="346.2" cy="231.8" r="0.95" fill="#2a2a2a" stroke="none" stroke-width="1"/>
<path d="M309.5,255.2 V251.5 H372.5 V255.2" fill="none" stroke="#3a3a3a" stroke-width="1"/>
<line x1="321.5" y1="251.5" x2="321.5" y2="255.2" stroke="#3a3a3a" stroke-width="1"/>
<circle cx="311.3" cy="247.9" r="0.95" fill="#2a2a2a" stroke="none" stroke-width="1"/>
<circle cx="314.3" cy="247.9" r="0.95" fill="#2a2a2a" stroke="none" stroke-width="1"/>
<circle cx="317.3" cy="247.9" r="0.95" fill="#2a2a2a" stroke="none" stroke-width="1"/>
<circle cx="320.3" cy="247.9" r="0.95" fill="#2a2a2a" stroke="none" stroke-width="1"/>
<text x="356.8" y="249.6" font-size="7.2" class="ti" fill="#444" textLength="6.6" lengthAdjust="spacingAndGlyphs">ns</text>
<path d="M309.0,263.6 L319.3,270.4 L370.5,265.3" fill="none" stroke="#111" stroke-width="1.05"/>
<path d="M309.0,262 L319.3,275.3 L370.5,275.3" fill="none" stroke="#111" stroke-width="1.05"/>
<path d="M309.0,265.2 L319.3,277.3 L370.5,305.5" fill="none" stroke="#111" stroke-width="1.05"/>
<path d="M309.0,266.8 L319.3,279.3 L370.5,284.5" fill="none" stroke="#111" stroke-width="1.05"/>
<path d="M309.0,268.4 L319.3,281.3 L370.5,288.7" fill="none" stroke="#111" stroke-width="1.05"/>
<path d="M309.0,270 L319.3,283.3 L370.5,301.3" fill="none" stroke="#111" stroke-width="1.05"/>
<path d="M309.0,273 L319.3,285.3 L370.5,299.2" fill="none" stroke="#111" stroke-width="1.05"/>
<path d="M309.0,274.6 L319.3,287.3 L370.5,306.9" fill="none" stroke="#111" stroke-width="1.05"/>
<path d="M309.0,276.2 L319.3,289.3 L370.5,295" fill="none" stroke="#111" stroke-width="1.05"/>
<path d="M309.0,279.4 L319.3,291.3 L370.5,282.3" fill="none" stroke="#111" stroke-width="1.05"/>
<path d="M309.0,277.8 L319.3,293.3 L370.5,292.9" fill="none" stroke="#111" stroke-width="1.05"/>
<path d="M309.0,281 L319.3,295.3 L370.5,294" fill="none" stroke="#111" stroke-width="1.05"/>
<path d="M309.0,285.6 L319.3,297.3 L370.5,303.4" fill="none" stroke="#111" stroke-width="1.05"/>
<path d="M309.0,284 L319.3,299.3 L370.5,280.5" fill="none" stroke="#111" stroke-width="1.05"/>
<path d="M309.0,287.2 L319.3,301.3 L370.5,286.6" fill="none" stroke="#111" stroke-width="1.05"/>
<path d="M309.0,288.8 L319.3,302.8 L370.5,308.1" fill="none" stroke="#111" stroke-width="1.05"/>
<path d="M309.0,290.4 L319.3,304.2 L370.5,297.1" fill="none" stroke="#111" stroke-width="1.05"/>
<path d="M309.0,292 L319.3,292.3 L370.5,290.8" fill="none" stroke="#111" stroke-width="1.05"/>
<circle cx="309" cy="262" r="1.9" fill="#c8173f" stroke="none" stroke-width="1"/>
<circle cx="309" cy="263.6" r="1.9" fill="#c8173f" stroke="none" stroke-width="1"/>
<circle cx="309" cy="265.2" r="1.9" fill="#c8173f" stroke="none" stroke-width="1"/>
<circle cx="309" cy="266.8" r="1.9" fill="#c8173f" stroke="none" stroke-width="1"/>
<circle cx="309" cy="268.4" r="1.9" fill="#c8173f" stroke="none" stroke-width="1"/>
<circle cx="309" cy="270" r="1.9" fill="#c8173f" stroke="none" stroke-width="1"/>
<circle cx="309" cy="273" r="1.9" fill="#c8173f" stroke="none" stroke-width="1"/>
<circle cx="309" cy="274.6" r="1.9" fill="#c8173f" stroke="none" stroke-width="1"/>
<circle cx="309" cy="276.2" r="1.9" fill="#c8173f" stroke="none" stroke-width="1"/>
<circle cx="309" cy="277.8" r="1.9" fill="#c8173f" stroke="none" stroke-width="1"/>
<circle cx="309" cy="279.4" r="1.9" fill="#c8173f" stroke="none" stroke-width="1"/>
<circle cx="309" cy="281" r="1.9" fill="#c8173f" stroke="none" stroke-width="1"/>
<circle cx="309" cy="284" r="1.9" fill="#c8173f" stroke="none" stroke-width="1"/>
<circle cx="309" cy="285.6" r="1.9" fill="#c8173f" stroke="none" stroke-width="1"/>
<circle cx="309" cy="287.2" r="1.9" fill="#c8173f" stroke="none" stroke-width="1"/>
<circle cx="309" cy="288.8" r="1.9" fill="#c8173f" stroke="none" stroke-width="1"/>
<circle cx="309" cy="290.4" r="1.9" fill="#c8173f" stroke="none" stroke-width="1"/>
<circle cx="309" cy="292" r="1.9" fill="#c8173f" stroke="none" stroke-width="1"/>
<circle cx="319.3" cy="270.4" r="1.9" fill="#1f4f8c" stroke="none" stroke-width="1"/>
<circle cx="319.3" cy="275.3" r="1.9" fill="#1f4f8c" stroke="none" stroke-width="1"/>
<circle cx="319.3" cy="277.3" r="1.9" fill="#1f4f8c" stroke="none" stroke-width="1"/>
<circle cx="319.3" cy="279.3" r="1.9" fill="#1f4f8c" stroke="none" stroke-width="1"/>
<circle cx="319.3" cy="281.3" r="1.9" fill="#1f4f8c" stroke="none" stroke-width="1"/>
<circle cx="319.3" cy="283.3" r="1.9" fill="#1f4f8c" stroke="none" stroke-width="1"/>
<circle cx="319.3" cy="285.3" r="1.9" fill="#1f4f8c" stroke="none" stroke-width="1"/>
<circle cx="319.3" cy="287.3" r="1.9" fill="#1f4f8c" stroke="none" stroke-width="1"/>
<circle cx="319.3" cy="289.3" r="1.9" fill="#1f4f8c" stroke="none" stroke-width="1"/>
<circle cx="319.3" cy="291.3" r="1.9" fill="#1f4f8c" stroke="none" stroke-width="1"/>
<circle cx="319.3" cy="293.3" r="1.9" fill="#1f4f8c" stroke="none" stroke-width="1"/>
<circle cx="319.3" cy="295.3" r="1.9" fill="#1f4f8c" stroke="none" stroke-width="1"/>
<circle cx="319.3" cy="297.3" r="1.9" fill="#1f4f8c" stroke="none" stroke-width="1"/>
<circle cx="319.3" cy="299.3" r="1.9" fill="#1f4f8c" stroke="none" stroke-width="1"/>
<circle cx="319.3" cy="301.3" r="1.9" fill="#1f4f8c" stroke="none" stroke-width="1"/>
<circle cx="319.3" cy="302.8" r="1.9" fill="#1f4f8c" stroke="none" stroke-width="1"/>
<circle cx="319.3" cy="304.2" r="1.9" fill="#1f4f8c" stroke="none" stroke-width="1"/>
<circle cx="319.3" cy="292.3" r="1.9" fill="#1f4f8c" stroke="none" stroke-width="1"/>
<circle cx="370.5" cy="265.3" r="1.9" fill="#1f4f8c" stroke="none" stroke-width="1"/>
<circle cx="370.5" cy="275.3" r="1.9" fill="#1f4f8c" stroke="none" stroke-width="1"/>
<circle cx="370.5" cy="280.5" r="1.9" fill="#1f4f8c" stroke="none" stroke-width="1"/>
<circle cx="370.5" cy="282.3" r="1.9" fill="#1f4f8c" stroke="none" stroke-width="1"/>
<circle cx="370.5" cy="284.5" r="1.9" fill="#1f4f8c" stroke="none" stroke-width="1"/>
<circle cx="370.5" cy="286.6" r="1.9" fill="#1f4f8c" stroke="none" stroke-width="1"/>
<circle cx="370.5" cy="288.7" r="1.9" fill="#1f4f8c" stroke="none" stroke-width="1"/>
<circle cx="370.5" cy="290.8" r="1.9" fill="#1f4f8c" stroke="none" stroke-width="1"/>
<circle cx="370.5" cy="292.9" r="1.9" fill="#1f4f8c" stroke="none" stroke-width="1"/>
<circle cx="370.5" cy="295" r="1.9" fill="#1f4f8c" stroke="none" stroke-width="1"/>
<circle cx="370.5" cy="297.1" r="1.9" fill="#1f4f8c" stroke="none" stroke-width="1"/>
<circle cx="370.5" cy="299.2" r="1.9" fill="#1f4f8c" stroke="none" stroke-width="1"/>
<circle cx="370.5" cy="301.3" r="1.9" fill="#1f4f8c" stroke="none" stroke-width="1"/>
<circle cx="370.5" cy="303.4" r="1.9" fill="#1f4f8c" stroke="none" stroke-width="1"/>
<circle cx="370.5" cy="305.5" r="1.9" fill="#1f4f8c" stroke="none" stroke-width="1"/>
<circle cx="370.5" cy="306.9" r="1.9" fill="#1f4f8c" stroke="none" stroke-width="1"/>
<circle cx="370.5" cy="308.1" r="1.9" fill="#1f4f8c" stroke="none" stroke-width="1"/>
<circle cx="370.5" cy="294" r="1.9" fill="#1f4f8c" stroke="none" stroke-width="1"/>
<text x="394.2" y="199.8" font-size="11.9" class="pl" fill="#111" font-weight="bold">F</text>
<text x="474.2" y="210" font-size="9" class="ti" text-anchor="middle" textLength="31.4" lengthAdjust="spacingAndGlyphs">Ibrutinib</text>
<line x1="435.5" y1="214.5" x2="435.5" y2="315.8" stroke="#222" stroke-width="1"/>
<line x1="434.8" y1="315.5" x2="512.8" y2="315.5" stroke="#222" stroke-width="1"/>
<line x1="432.4" y1="217.5" x2="435.2" y2="217.5" stroke="#222" stroke-width="1"/>
<text x="429.7" y="220.05" font-size="6.5" class="t" text-anchor="end" fill="#555">0.5</text>
<line x1="432.4" y1="237.5" x2="435.2" y2="237.5" stroke="#222" stroke-width="1"/>
<text x="429.7" y="239.6" font-size="6.5" class="t" text-anchor="end" fill="#555">0.0</text>
<line x1="432.4" y1="256.5" x2="435.2" y2="256.5" stroke="#222" stroke-width="1"/>
<text x="429.7" y="259.15" font-size="6.5" class="t" text-anchor="end" fill="#555">&#8211;0.5</text>
<line x1="432.4" y1="276.5" x2="435.2" y2="276.5" stroke="#222" stroke-width="1"/>
<text x="429.7" y="278.7" font-size="6.5" class="t" text-anchor="end" fill="#555">&#8211;1.0</text>
<line x1="432.4" y1="295.5" x2="435.2" y2="295.5" stroke="#222" stroke-width="1"/>
<text x="429.7" y="298.25" font-size="6.5" class="t" text-anchor="end" fill="#555">&#8211;1.5</text>
<line x1="432.4" y1="315.5" x2="435.2" y2="315.5" stroke="#222" stroke-width="1"/>
<text x="429.7" y="317.8" font-size="6.5" class="t" text-anchor="end" fill="#555">&#8211;2.0</text>
<text x="0" y="0" font-size="9.07" fill="#333" class="rl" transform="translate(401.9,264.9) rotate(-90)" text-anchor="middle" textLength="56.6" lengthAdjust="spacingAndGlyphs">Log2 FC nMFI T-bet</text>
<text x="0" y="0" font-size="9.07" fill="#333" class="rl" transform="translate(411.8,266.45) rotate(-90)" text-anchor="middle" textLength="72.1" lengthAdjust="spacingAndGlyphs">(fold of vehicle control)</text>
<line x1="443.5" y1="223.4" x2="443.5" y2="226" stroke="#444" stroke-width="1"/>
<line x1="443.5" y1="268.9" x2="443.5" y2="284" stroke="#444" stroke-width="1"/>
<line x1="441.9" y1="223.5" x2="445.7" y2="223.5" stroke="#444" stroke-width="1"/>
<line x1="441.9" y1="284.5" x2="445.7" y2="284.5" stroke="#444" stroke-width="1"/>
<rect x="440" y="226" width="8" height="43" fill="#cb0b2c" stroke="none" stroke-width="1"/>
<line x1="440" y1="257.5" x2="448" y2="257.5" stroke="#7a0a1a" stroke-width="1.4"/>
<line x1="456.5" y1="238.4" x2="456.5" y2="240.6" stroke="#f2a845" stroke-width="1"/>
<line x1="456.5" y1="268.4" x2="456.5" y2="282" stroke="#f2a845" stroke-width="1"/>
<line x1="454.38" y1="238.5" x2="457.92" y2="238.5" stroke="#f2a845" stroke-width="1"/>
<line x1="454.38" y1="282.5" x2="457.92" y2="282.5" stroke="#f2a845" stroke-width="1"/>
<rect x="452.5" y="240.5" width="7" height="28" fill="#fff" stroke="#f2a845" stroke-width="1"/>
<line x1="452.5" y1="250.5" x2="459.5" y2="250.5" stroke="#f2a845" stroke-width="1"/>
<line x1="468.5" y1="225" x2="468.5" y2="237.6" stroke="#444" stroke-width="1"/>
<line x1="468.5" y1="291.1" x2="468.5" y2="303" stroke="#444" stroke-width="1"/>
<line x1="466.48" y1="225.5" x2="470.02" y2="225.5" stroke="#444" stroke-width="1"/>
<line x1="466.48" y1="303.5" x2="470.02" y2="303.5" stroke="#444" stroke-width="1"/>
<rect x="465" y="238" width="7" height="53" fill="#29a5e2" stroke="none" stroke-width="1"/>
<line x1="465" y1="279.5" x2="472" y2="279.5" stroke="#15405e" stroke-width="1.4"/>
<line x1="480.5" y1="256.5" x2="480.5" y2="258.3" stroke="#444" stroke-width="1"/>
<line x1="480.5" y1="279.2" x2="480.5" y2="296.2" stroke="#444" stroke-width="1"/>
<line x1="478.8" y1="256.5" x2="482.2" y2="256.5" stroke="#444" stroke-width="1"/>
<line x1="478.8" y1="296.5" x2="482.2" y2="296.5" stroke="#444" stroke-width="1"/>
<rect x="477" y="258" width="7" height="21" fill="#2fae31" stroke="none" stroke-width="1"/>
<line x1="477" y1="274.5" x2="484" y2="274.5" stroke="#16501a" stroke-width="1.4"/>
<line x1="492.5" y1="246.4" x2="492.5" y2="259.8" stroke="#57b4e6" stroke-width="1"/>
<line x1="492.5" y1="284.5" x2="492.5" y2="305" stroke="#57b4e6" stroke-width="1"/>
<line x1="490.9" y1="246.5" x2="494.3" y2="246.5" stroke="#57b4e6" stroke-width="1"/>
<line x1="490.9" y1="305.5" x2="494.3" y2="305.5" stroke="#57b4e6" stroke-width="1"/>
<rect x="489.5" y="259.5" width="7" height="25" fill="#fff" stroke="#57b4e6" stroke-width="1"/>
<line x1="489.5" y1="261.5" x2="496.5" y2="261.5" stroke="#57b4e6" stroke-width="1"/>
<line x1="505.5" y1="231.3" x2="505.5" y2="236" stroke="#5cb85e" stroke-width="1"/>
<line x1="505.5" y1="269.1" x2="505.5" y2="271.4" stroke="#5cb85e" stroke-width="1"/>
<line x1="503.38" y1="231.5" x2="506.92" y2="231.5" stroke="#5cb85e" stroke-width="1"/>
<line x1="503.38" y1="271.5" x2="506.92" y2="271.5" stroke="#5cb85e" stroke-width="1"/>
<rect x="501.5" y="236.5" width="7" height="33" fill="#fff" stroke="#5cb85e" stroke-width="1"/>
<line x1="501.5" y1="252.5" x2="508.5" y2="252.5" stroke="#5cb85e" stroke-width="1"/>
<circle cx="456.1" cy="221.2" r="0.95" fill="#2a2a2a" stroke="none" stroke-width="1"/>
<circle cx="468.2" cy="221.2" r="0.95" fill="#2a2a2a" stroke="none" stroke-width="1"/>
<circle cx="477.3" cy="226" r="0.95" fill="#2a2a2a" stroke="none" stroke-width="1"/>
<circle cx="480.3" cy="226" r="0.95" fill="#2a2a2a" stroke="none" stroke-width="1"/>
<circle cx="483.3" cy="226" r="0.95" fill="#2a2a2a" stroke="none" stroke-width="1"/>
<circle cx="491" cy="226" r="0.95" fill="#2a2a2a" stroke="none" stroke-width="1"/>
<circle cx="494" cy="226" r="0.95" fill="#2a2a2a" stroke="none" stroke-width="1"/>
<rect x="417" y="325.6" width="6.4" height="6.2" fill="#cb0b2c" stroke="none" stroke-width="1"/>
<text x="427" y="330.5" font-size="7.2" class="ti" fill="#444" textLength="11" lengthAdjust="spacingAndGlyphs">w/o</text>
<rect x="468" y="325.6" width="6.4" height="6.2" fill="#29a5e2" stroke="none" stroke-width="1"/>
<text x="477.6" y="330.5" font-size="7.2" class="ti" fill="#444" textLength="13.4" lengthAdjust="spacingAndGlyphs">IFN&#947;</text>
<rect x="417.5" y="335.7" width="5.4" height="5.3" fill="#fff" stroke="#f2a845" stroke-width="1"/>
<text x="427" y="340.4" font-size="7.2" class="ti" fill="#444" textLength="15" lengthAdjust="spacingAndGlyphs">&#945;IgM</text>
<rect x="468" y="335.4" width="6.4" height="6.2" fill="#2fae31" stroke="none" stroke-width="1"/>
<text x="477.6" y="340.4" font-size="7.2" class="ti" fill="#444" textLength="12.4" lengthAdjust="spacingAndGlyphs">CPG</text>
<rect x="417.5" y="345.7" width="5.4" height="5.3" fill="#fff" stroke="#57b4e6" stroke-width="1"/>
<text x="427" y="350.5" font-size="7.2" class="ti" fill="#444" textLength="36" lengthAdjust="spacingAndGlyphs">&#945;IgM + IFN&#947;</text>
<rect x="468.5" y="345.7" width="5.4" height="5.3" fill="#fff" stroke="#5cb85e" stroke-width="1"/>
<text x="477.6" y="350.5" font-size="7.2" class="ti" fill="#444" textLength="35.4" lengthAdjust="spacingAndGlyphs">&#945;IgM + CPG</text>
<text x="45.9" y="380.8" font-size="11.9" class="pl" fill="#111" font-weight="bold">G</text>
<text x="165.15" y="390.8" font-size="7.6" class="ti" text-anchor="middle" textLength="21.5" lengthAdjust="spacingAndGlyphs">IKK16</text>
<line x1="87.5" y1="396.5" x2="87.5" y2="495" stroke="#222" stroke-width="1"/>
<line x1="87.2" y1="494.5" x2="243.8" y2="494.5" stroke="#222" stroke-width="1"/>
<line x1="84.8" y1="399.5" x2="87.6" y2="399.5" stroke="#222" stroke-width="1"/>
<text x="82.2" y="401.3" font-size="6.5" class="t" text-anchor="end" fill="#555">0.5</text>
<line x1="84.8" y1="418.5" x2="87.6" y2="418.5" stroke="#222" stroke-width="1"/>
<text x="82.2" y="420.4" font-size="6.5" class="t" text-anchor="end" fill="#555">0.0</text>
<line x1="84.8" y1="437.5" x2="87.6" y2="437.5" stroke="#222" stroke-width="1"/>
<text x="82.2" y="439.5" font-size="6.5" class="t" text-anchor="end" fill="#555">&#8211;0.5</text>
<line x1="84.8" y1="456.5" x2="87.6" y2="456.5" stroke="#222" stroke-width="1"/>
<text x="82.2" y="458.6" font-size="6.5" class="t" text-anchor="end" fill="#555">&#8211;1.0</text>
<line x1="84.8" y1="475.5" x2="87.6" y2="475.5" stroke="#222" stroke-width="1"/>
<text x="82.2" y="477.7" font-size="6.5" class="t" text-anchor="end" fill="#555">&#8211;1.5</text>
<line x1="84.8" y1="494.5" x2="87.6" y2="494.5" stroke="#222" stroke-width="1"/>
<text x="82.2" y="496.8" font-size="6.5" class="t" text-anchor="end" fill="#555">&#8211;2.0</text>
<text x="0" y="0" font-size="8.96" fill="#333" class="rl" transform="translate(53.4,445.15) rotate(-90)" text-anchor="middle" textLength="56.9" lengthAdjust="spacingAndGlyphs">Log2 FC nMFI T-bet</text>
<text x="0" y="0" font-size="9.07" fill="#333" class="rl" transform="translate(63.6,445.9) rotate(-90)" text-anchor="middle" textLength="72.4" lengthAdjust="spacingAndGlyphs">(fold of vehicle control)</text>
<line x1="99.5" y1="435.7" x2="99.5" y2="441.5" stroke="#444" stroke-width="1"/>
<line x1="99.5" y1="446.3" x2="99.5" y2="447.3" stroke="#444" stroke-width="1"/>
<line x1="97.12" y1="435.5" x2="102.57" y2="435.5" stroke="#444" stroke-width="1"/>
<line x1="97.12" y1="447.5" x2="102.57" y2="447.5" stroke="#444" stroke-width="1"/>
<rect x="94" y="442" width="11" height="4" fill="#cb0b2c" stroke="none" stroke-width="1"/>
<line x1="94" y1="443.5" x2="105" y2="443.5" stroke="#7a0a1a" stroke-width="1.4"/>
<line x1="118.5" y1="433.7" x2="118.5" y2="439.5" stroke="#f2a845" stroke-width="1"/>
<line x1="118.5" y1="468.5" x2="118.5" y2="482" stroke="#f2a845" stroke-width="1"/>
<line x1="115.68" y1="433.5" x2="121.22" y2="433.5" stroke="#f2a845" stroke-width="1"/>
<line x1="115.68" y1="482.5" x2="121.22" y2="482.5" stroke="#f2a845" stroke-width="1"/>
<rect x="112.5" y="439.5" width="12" height="29" fill="#fff" stroke="#f2a845" stroke-width="1"/>
<line x1="112.5" y1="449.5" x2="124.5" y2="449.5" stroke="#f2a845" stroke-width="1"/>
<line x1="137.5" y1="426.8" x2="137.5" y2="429.4" stroke="#444" stroke-width="1"/>
<line x1="137.5" y1="434.4" x2="137.5" y2="447" stroke="#444" stroke-width="1"/>
<line x1="134.3" y1="426.5" x2="139.7" y2="426.5" stroke="#444" stroke-width="1"/>
<line x1="134.3" y1="447.5" x2="139.7" y2="447.5" stroke="#444" stroke-width="1"/>
<rect x="132" y="429" width="10" height="5" fill="#29a5e2" stroke="none" stroke-width="1"/>
<line x1="132" y1="433.5" x2="142" y2="433.5" stroke="#15405e" stroke-width="1.4"/>
<line x1="155.5" y1="420.8" x2="155.5" y2="427.3" stroke="#444" stroke-width="1"/>
<line x1="155.5" y1="432" x2="155.5" y2="441" stroke="#444" stroke-width="1"/>
<line x1="153.22" y1="420.5" x2="158.67" y2="420.5" stroke="#444" stroke-width="1"/>
<line x1="153.22" y1="441.5" x2="158.67" y2="441.5" stroke="#444" stroke-width="1"/>
<rect x="150" y="427" width="11" height="5" fill="#cc6d13" stroke="none" stroke-width="1"/>
<line x1="150" y1="429.5" x2="161" y2="429.5" stroke="#5a2a00" stroke-width="1.4"/>
<line x1="174.5" y1="426.6" x2="174.5" y2="430.6" stroke="#444" stroke-width="1"/>
<line x1="174.5" y1="456" x2="174.5" y2="487.9" stroke="#444" stroke-width="1"/>
<line x1="171.85" y1="426.5" x2="177.35" y2="426.5" stroke="#444" stroke-width="1"/>
<line x1="171.85" y1="487.5" x2="177.35" y2="487.5" stroke="#444" stroke-width="1"/>
<rect x="169" y="431" width="11" height="25" fill="#2fae31" stroke="none" stroke-width="1"/>
<line x1="169" y1="434.5" x2="180" y2="434.5" stroke="#16501a" stroke-width="1.4"/>
<line x1="193.5" y1="410.3" x2="193.5" y2="418.5" stroke="#57b4e6" stroke-width="1"/>
<line x1="193.5" y1="424.8" x2="193.5" y2="434.3" stroke="#57b4e6" stroke-width="1"/>
<line x1="190.33" y1="410.5" x2="196.38" y2="410.5" stroke="#57b4e6" stroke-width="1"/>
<line x1="190.33" y1="434.5" x2="196.38" y2="434.5" stroke="#57b4e6" stroke-width="1"/>
<rect x="187.5" y="418.5" width="12" height="6" fill="#fff" stroke="#57b4e6" stroke-width="1"/>
<line x1="187.5" y1="422.5" x2="199.5" y2="422.5" stroke="#57b4e6" stroke-width="1"/>
<line x1="212.5" y1="422.9" x2="212.5" y2="423.4" stroke="#d4874a" stroke-width="1"/>
<line x1="212.5" y1="439.4" x2="212.5" y2="448.8" stroke="#d4874a" stroke-width="1"/>
<line x1="209.03" y1="422.5" x2="215.08" y2="422.5" stroke="#d4874a" stroke-width="1"/>
<line x1="209.03" y1="448.5" x2="215.08" y2="448.5" stroke="#d4874a" stroke-width="1"/>
<rect x="206.5" y="423.5" width="12" height="16" fill="#fff" stroke="#d4874a" stroke-width="1"/>
<line x1="206.5" y1="426.5" x2="218.5" y2="426.5" stroke="#d4874a" stroke-width="1"/>
<line x1="230.5" y1="420.8" x2="230.5" y2="425.5" stroke="#5cb85e" stroke-width="1"/>
<line x1="230.5" y1="461.6" x2="230.5" y2="478.4" stroke="#5cb85e" stroke-width="1"/>
<line x1="227.42" y1="420.5" x2="233.47" y2="420.5" stroke="#5cb85e" stroke-width="1"/>
<line x1="227.42" y1="478.5" x2="233.47" y2="478.5" stroke="#5cb85e" stroke-width="1"/>
<rect x="224.5" y="425.5" width="12" height="36" fill="#fff" stroke="#5cb85e" stroke-width="1"/>
<line x1="224.5" y1="431.5" x2="236.5" y2="431.5" stroke="#5cb85e" stroke-width="1"/>
<circle cx="96.2" cy="406.8" r="0.95" fill="#2a2a2a" stroke="none" stroke-width="1"/>
<circle cx="99.2" cy="406.8" r="0.95" fill="#2a2a2a" stroke="none" stroke-width="1"/>
<circle cx="102.2" cy="406.8" r="0.95" fill="#2a2a2a" stroke="none" stroke-width="1"/>
<circle cx="105.2" cy="406.8" r="0.95" fill="#2a2a2a" stroke="none" stroke-width="1"/>
<circle cx="113.9" cy="406.8" r="0.95" fill="#2a2a2a" stroke="none" stroke-width="1"/>
<circle cx="116.9" cy="406.8" r="0.95" fill="#2a2a2a" stroke="none" stroke-width="1"/>
<circle cx="119.9" cy="406.8" r="0.95" fill="#2a2a2a" stroke="none" stroke-width="1"/>
<circle cx="122.9" cy="406.8" r="0.95" fill="#2a2a2a" stroke="none" stroke-width="1"/>
<circle cx="135.4" cy="406.8" r="0.95" fill="#2a2a2a" stroke="none" stroke-width="1"/>
<circle cx="138.4" cy="406.8" r="0.95" fill="#2a2a2a" stroke="none" stroke-width="1"/>
<circle cx="155.9" cy="406.8" r="0.95" fill="#2a2a2a" stroke="none" stroke-width="1"/>
<circle cx="171.5" cy="406.8" r="0.95" fill="#2a2a2a" stroke="none" stroke-width="1"/>
<circle cx="174.5" cy="406.8" r="0.95" fill="#2a2a2a" stroke="none" stroke-width="1"/>
<circle cx="177.5" cy="406.8" r="0.95" fill="#2a2a2a" stroke="none" stroke-width="1"/>
<circle cx="212.8" cy="406.8" r="0.95" fill="#2a2a2a" stroke="none" stroke-width="1"/>
<circle cx="228.9" cy="406.8" r="0.95" fill="#2a2a2a" stroke="none" stroke-width="1"/>
<circle cx="231.9" cy="406.8" r="0.95" fill="#2a2a2a" stroke="none" stroke-width="1"/>
<rect x="249.6" y="407.6" width="6.5" height="5.9" fill="#cb0b2c" stroke="none" stroke-width="1"/>
<text x="259" y="412.2" font-size="7.2" class="ti" fill="#444" textLength="10.6" lengthAdjust="spacingAndGlyphs">w/o</text>
<rect x="250.1" y="418" width="5.5" height="4.9" fill="#fff" stroke="#f2a845" stroke-width="1"/>
<text x="259" y="422.1" font-size="7.2" class="ti" fill="#444" textLength="15" lengthAdjust="spacingAndGlyphs">&#945;IgM</text>
<rect x="249.6" y="427.4" width="6.5" height="5.9" fill="#29a5e2" stroke="none" stroke-width="1"/>
<text x="259" y="432" font-size="7.2" class="ti" fill="#444" textLength="12.8" lengthAdjust="spacingAndGlyphs">IFN&#947;</text>
<rect x="249.6" y="437.3" width="6.5" height="5.9" fill="#cc6d13" stroke="none" stroke-width="1"/>
<text x="259" y="441.9" font-size="7.2" class="ti" fill="#444" textLength="13.6" lengthAdjust="spacingAndGlyphs">IFN&#946;</text>
<rect x="249.6" y="447.2" width="6.5" height="5.9" fill="#2fae31" stroke="none" stroke-width="1"/>
<text x="259" y="451.8" font-size="7.2" class="ti" fill="#444" textLength="13.1" lengthAdjust="spacingAndGlyphs">CPG</text>
<rect x="250.1" y="457.6" width="5.5" height="4.9" fill="#fff" stroke="#57b4e6" stroke-width="1"/>
<text x="259" y="461.7" font-size="7.2" class="ti" fill="#444" textLength="36.7" lengthAdjust="spacingAndGlyphs">&#945;IgM + IFN&#947;</text>
<rect x="250.1" y="467.5" width="5.5" height="4.9" fill="#fff" stroke="#d4874a" stroke-width="1"/>
<text x="259" y="471.6" font-size="7.2" class="ti" fill="#444" textLength="36.7" lengthAdjust="spacingAndGlyphs">&#945;IgM + IFN&#946;</text>
<rect x="250.1" y="477.4" width="5.5" height="4.9" fill="#fff" stroke="#5cb85e" stroke-width="1"/>
<text x="259" y="481.5" font-size="7.2" class="ti" fill="#444" textLength="36.2" lengthAdjust="spacingAndGlyphs">&#945;IgM + CPG</text>
<text x="311.2" y="380.8" font-size="11.9" class="pl" fill="#111" font-weight="bold">H</text>
<line x1="344.5" y1="396.1" x2="344.5" y2="495" stroke="#222" stroke-width="1"/>
<line x1="344" y1="494.5" x2="425.5" y2="494.5" stroke="#222" stroke-width="1"/>
<line x1="340.2" y1="399.5" x2="343" y2="399.5" stroke="#222" stroke-width="1"/>
<text x="337.6" y="401.4" font-size="6.5" class="t" text-anchor="end" fill="#555">1500</text>
<line x1="340.2" y1="430.5" x2="343" y2="430.5" stroke="#222" stroke-width="1"/>
<text x="337.6" y="433.2" font-size="6.5" class="t" text-anchor="end" fill="#555">1000</text>
<line x1="340.2" y1="462.5" x2="343" y2="462.5" stroke="#222" stroke-width="1"/>
<text x="337.6" y="465" font-size="6.5" class="t" text-anchor="end" fill="#555">500</text>
<line x1="340.2" y1="494.5" x2="343" y2="494.5" stroke="#222" stroke-width="1"/>
<text x="337.6" y="496.8" font-size="6.5" class="t" text-anchor="end" fill="#555">0</text>
<line x1="363.5" y1="494.4" x2="363.5" y2="497.2" stroke="#222" stroke-width="1"/>
<text x="363.2" y="507.2" font-size="6.6" text-anchor="middle" textLength="28" lengthAdjust="spacingAndGlyphs">TCL1 355</text>
<line x1="406.5" y1="494.4" x2="406.5" y2="497.2" stroke="#222" stroke-width="1"/>
<text x="406.5" y="507.2" font-size="6.6" text-anchor="middle" textLength="28" lengthAdjust="spacingAndGlyphs">TCL1 699</text>
<text x="0" y="0" font-size="8.85" fill="#333" class="rl" transform="translate(318.8,445.4) rotate(-90)" text-anchor="middle" textLength="31" lengthAdjust="spacingAndGlyphs">nMFI T-bet</text>
<line x1="355.2" y1="449.5" x2="371.3" y2="430.4" stroke="#222" stroke-width="0.9"/>
<line x1="355.2" y1="462" x2="371.3" y2="448.9" stroke="#222" stroke-width="0.9"/>
<line x1="355.2" y1="470.1" x2="371.3" y2="456" stroke="#222" stroke-width="0.9"/>
<line x1="398" y1="465.8" x2="414.3" y2="458.4" stroke="#222" stroke-width="0.9"/>
<line x1="398" y1="474.2" x2="414.3" y2="458.4" stroke="#222" stroke-width="0.9"/>
<line x1="398" y1="483.2" x2="414.3" y2="468.5" stroke="#222" stroke-width="0.9"/>
<circle cx="355.2" cy="449.5" r="2.5" fill="#d81b6a" stroke="none" stroke-width="1"/>
<rect x="368.8" y="427.9" width="5" height="5" fill="#8c87c4" stroke="none" stroke-width="1"/>
<circle cx="355.2" cy="462" r="2.5" fill="#d81b6a" stroke="none" stroke-width="1"/>
<rect x="368.8" y="446.4" width="5" height="5" fill="#8c87c4" stroke="none" stroke-width="1"/>
<circle cx="355.2" cy="470.1" r="2.5" fill="#d81b6a" stroke="none" stroke-width="1"/>
<rect x="368.8" y="453.5" width="5" height="5" fill="#8c87c4" stroke="none" stroke-width="1"/>
<circle cx="398" cy="465.8" r="2.5" fill="#d81b6a" stroke="none" stroke-width="1"/>
<rect x="411.8" y="455.9" width="5" height="5" fill="#8c87c4" stroke="none" stroke-width="1"/>
<circle cx="398" cy="474.2" r="2.5" fill="#d81b6a" stroke="none" stroke-width="1"/>
<rect x="411.8" y="455.9" width="5" height="5" fill="#8c87c4" stroke="none" stroke-width="1"/>
<circle cx="398" cy="483.2" r="2.5" fill="#d81b6a" stroke="none" stroke-width="1"/>
<rect x="411.8" y="466" width="5" height="5" fill="#8c87c4" stroke="none" stroke-width="1"/>
<line x1="425.8" y1="399.5" x2="440.8" y2="399.5" stroke="#333" stroke-width="1"/>
<circle cx="432.9" cy="399.2" r="3.2" fill="#d81b6a" stroke="none" stroke-width="1"/>
<line x1="425.8" y1="409.5" x2="440.8" y2="409.5" stroke="#333" stroke-width="1"/>
<rect x="429.9" y="406.6" width="6" height="6" fill="#8c87c4" stroke="none" stroke-width="1"/>
<text x="444.2" y="401.6" font-size="7.4" fill="#333" class="ti" font-style="italic" textLength="18.5" lengthAdjust="spacingAndGlyphs">Nfkbie</text>
<text x="463" y="398.6" font-size="4.6" fill="#444" class="ti" textLength="7" lengthAdjust="spacingAndGlyphs">+/+</text>
<text x="444.2" y="412" font-size="7.4" fill="#333" class="ti" font-style="italic" textLength="18.5" lengthAdjust="spacingAndGlyphs">Nfkbie</text>
<text x="463" y="409" font-size="4.6" fill="#444" class="ti" textLength="5.5" lengthAdjust="spacingAndGlyphs">&#8211;/&#8211;</text>
<line x1="284" y1="109.5" x2="365" y2="109.5" stroke="#000" stroke-width="1.6" stroke-dasharray="1.5 1.5"/>
<line x1="423" y1="109.5" x2="504.5" y2="109.5" stroke="#000" stroke-width="1.6" stroke-dasharray="1.5 1.5"/>
<line x1="436" y1="237.5" x2="513" y2="237.5" stroke="#000" stroke-width="1.6" stroke-dasharray="1.5 1.5"/>
<line x1="88" y1="418.5" x2="243.5" y2="418.5" stroke="#000" stroke-width="1.6" stroke-dasharray="1.5 1.5"/>
<rect x="0.5" y="0.5" width="519" height="514" fill="none" stroke="#4a4a4a" stroke-width="1"/>
</svg>
</body></html>
